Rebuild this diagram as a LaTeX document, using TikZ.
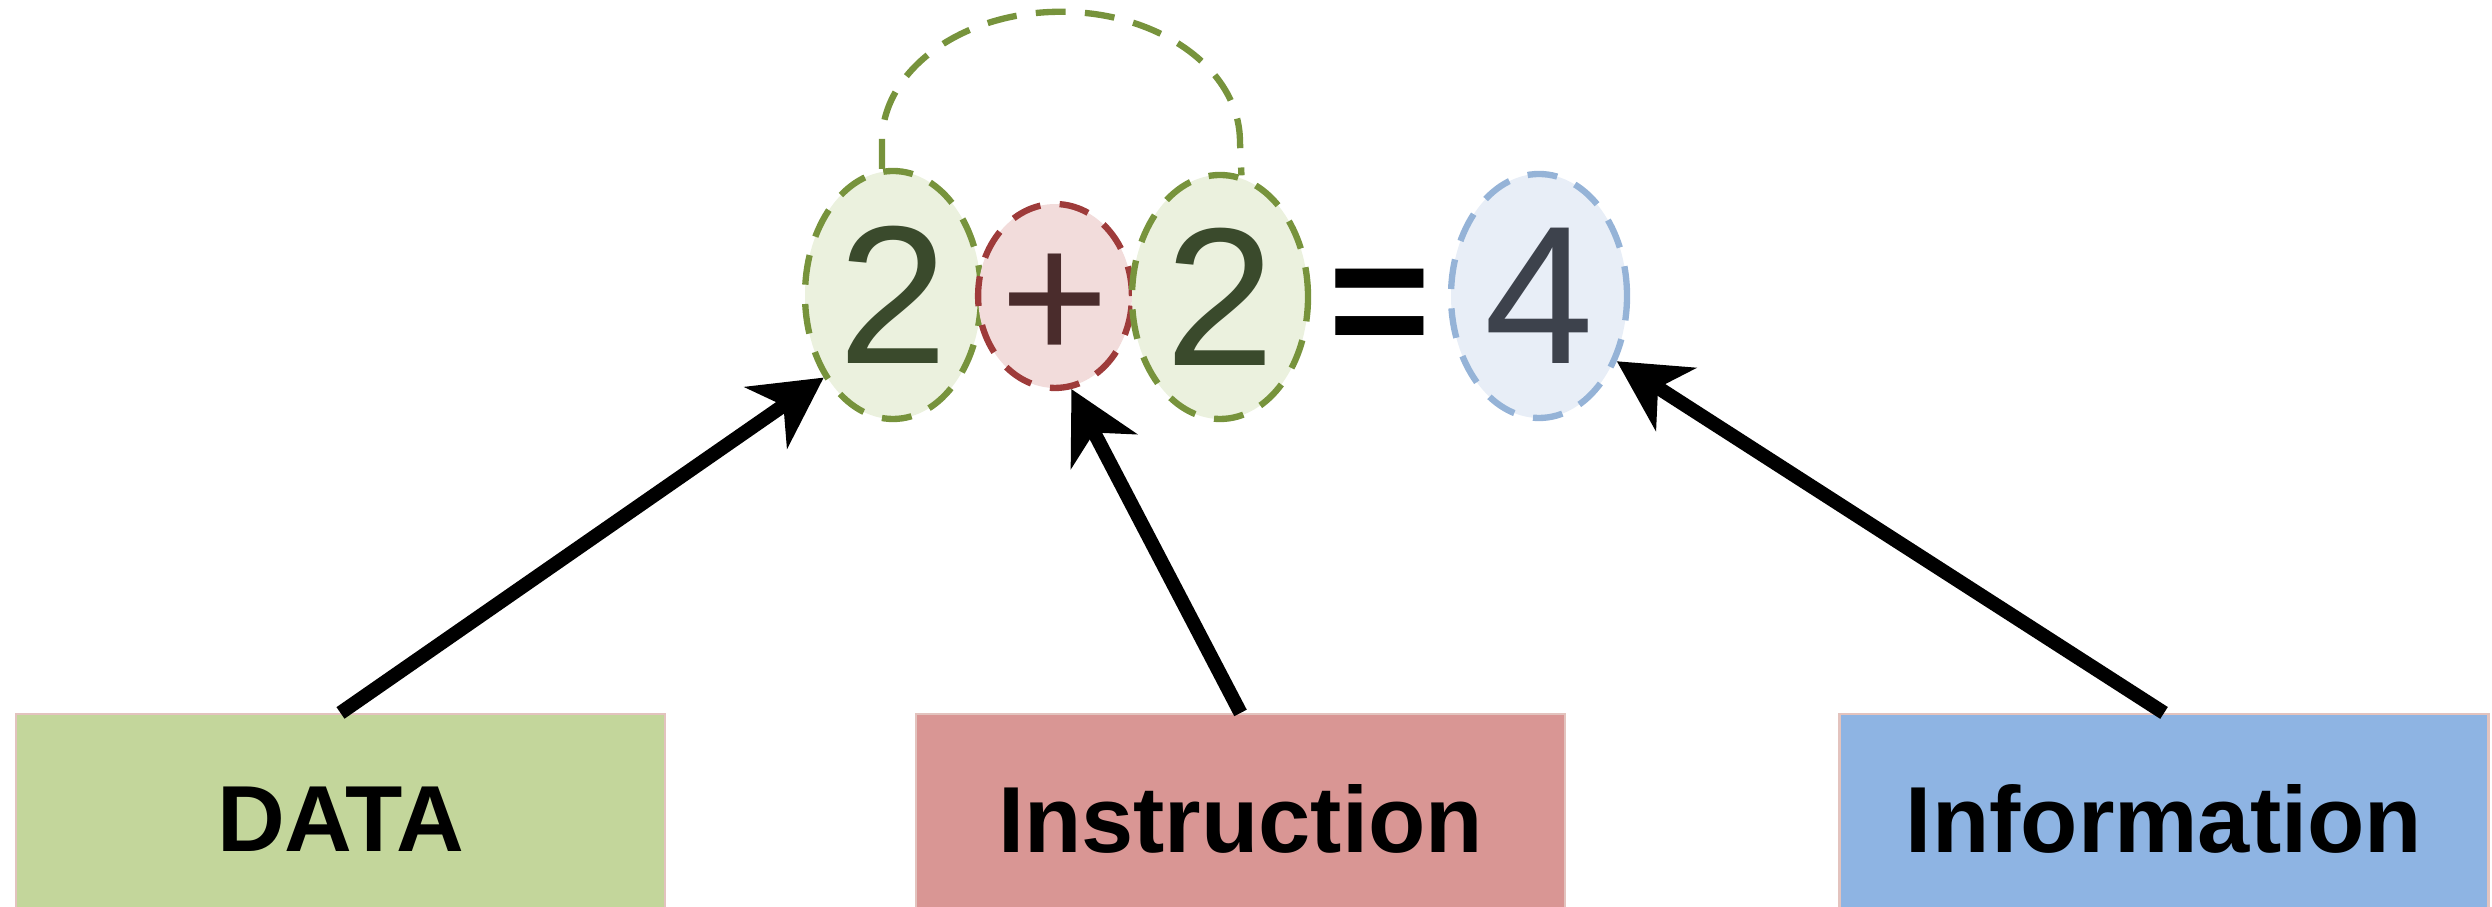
\documentclass[tikz,border=0pt]{standalone}
\usepackage{fontspec}
\setmainfont{Liberation Sans}
\usepackage{tikz}
\usetikzlibrary{shapes.geometric,arrows.meta,calc}
\definecolor{grline}{HTML}{77933C}
\definecolor{grfill}{HTML}{EBF1DE}
\definecolor{rdline}{HTML}{9E3B3A}
\definecolor{rdfill}{HTML}{F2DCDB}
\definecolor{blline}{HTML}{95B3D7}
\definecolor{blfill}{HTML}{E8EEF7}
\definecolor{grtext}{HTML}{3A4A2C}
\definecolor{rdtext}{HTML}{4A2C2C}
\definecolor{bltext}{HTML}{3D424C}
\definecolor{datafill}{HTML}{C3D69B}
\definecolor{instrfill}{HTML}{D99694}
\definecolor{infofill}{HTML}{8EB4E3}
\definecolor{boxline}{HTML}{E3C3BE}

\begin{document}
\begin{tikzpicture}[
	dig/.style={inner sep=0pt,font=\fontsize{56}{66}\selectfont},
	ring/.style={dig,draw,ellipse,line width=1.8pt,dash pattern=on 8.5pt off 5.5pt},
	lab/.style={draw=boxline,line width=0.6pt,minimum width=6.49cm,minimum height=2.1cm,font=\fontsize{26.7}{32}\selectfont\bfseries},
	>={Stealth[length=0.7cm,width=0.74cm,inset=0.21cm]}]
	\useasboundingbox (0,0) rectangle (24.92,9.07);
		    \node[ring,draw=grline,fill=grfill,text=grtext,minimum width=1.76cm,minimum height=2.48cm] (n1) at (8.93,6.12) {2};
		    \node[ring,draw=rdline,fill=rdfill,text=rdtext,minimum width=1.34cm,minimum height=1.74cm] (op) at (10.55,6.11) {\fontsize{53}{63}\selectfont\vphantom{2}+};
		    \node[ring,draw=grline,fill=grfill,text=grtext,minimum width=1.76cm,minimum height=2.44cm] (n2) at (12.20,6.10) {2};
		    \node[dig,font=\fontsize{50}{60}\selectfont\bfseries] (eq) at (13.80,6.08) {\vphantom{2}=};
		    \node[ring,draw=blline,fill=blfill,text=bltext,minimum width=1.76cm,minimum height=2.44cm] (n3) at (15.39,6.11) {4};
    \draw[grline,line width=1.8pt,dash pattern=on 8.5pt off 5.5pt] (n1.95) -- ++(0,0.27) arc[start angle=180,end angle=0,x radius=1.79cm,y radius=1.3cm] -- (n2.80);
		    \node[lab,fill=datafill] (b1) at (3.405,0.88) {DATA};
		    \node[lab,fill=instrfill] (b2) at (12.405,0.88) {Instruction};
		    \node[lab,fill=infofill] (b3) at (21.64,0.88) {Information};
    \draw[->,line width=4pt] (b1.north)--(n1.230);
    \draw[->,line width=4pt] (b2.north)--(op.280);
    \draw[->,line width=4pt] (b3.north)--(n3.320);
   	\end{tikzpicture}
\end{document}
